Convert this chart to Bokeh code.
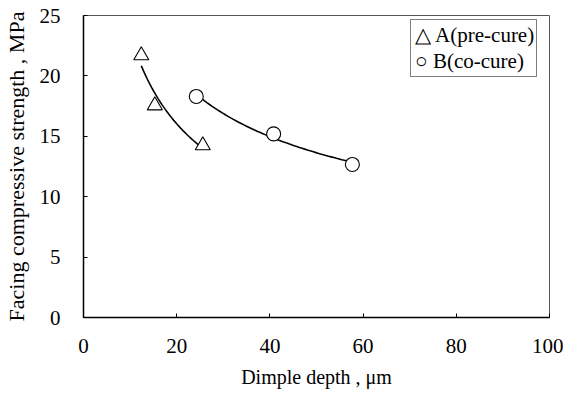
import numpy as np
from bokeh.plotting import figure
from bokeh.models import Legend, LegendItem, FixedTicker, Range1d
from bokeh.embed import file_html
from bokeh.resources import INLINE

# Data
a_depth = [12.4, 15.3, 25.6]
a_strength = [21.7, 17.55, 14.24]
b_depth = [24.2, 40.8, 57.7]
b_strength = [18.3, 15.2, 12.67]

x_ticks = [0, 20, 40, 60, 80, 100]
y_ticks = [0, 5, 10, 15, 20, 25]

FONT = "Liberation Serif"

def power_fit(x, y):
    b, ln_a = np.polyfit(np.log(x), np.log(y), 1)
    xs = np.linspace(min(x), max(x), 60)
    return xs, np.exp(ln_a) * xs ** b

p = figure(width=563, height=398, output_backend="svg", toolbar_location=None,
           x_range=Range1d(0, 100), y_range=Range1d(0, 25),
           min_border_left=83, min_border_right=14, min_border_top=15, min_border_bottom=81)
p.grid.visible = False
p.outline_line_color = "#555555"
p.outline_line_width = 1

for ax in (p.xaxis[0], p.yaxis[0]):
    ax.axis_line_color = "black"
    ax.axis_line_width = 1.5
    ax.major_tick_in = 4
    ax.major_tick_out = 0
    ax.minor_tick_in = 0
    ax.minor_tick_out = 0
    ax.major_tick_line_color = "black"
    ax.major_label_text_font = FONT
    ax.major_label_text_font_size = "21px"
    ax.major_label_text_color = "black"
    ax.axis_label_text_font = FONT
    ax.axis_label_text_font_style = "normal"
    ax.axis_label_text_color = "black"

p.xaxis.ticker = FixedTicker(ticks=x_ticks)
p.yaxis.ticker = FixedTicker(ticks=y_ticks)
p.xaxis.axis_label = "Dimple depth , μm"
p.yaxis.axis_label = "Facing compressive strength , MPa"
p.xaxis.axis_label_text_font_size = "20px"
p.yaxis.axis_label_text_font_size = "22px"
p.xaxis.major_label_standoff = 21
p.yaxis.major_label_standoff = 23
p.xaxis.axis_label_standoff = 10
p.yaxis.axis_label_standoff = 8

xa, ya = power_fit(a_depth, a_strength)
xb, yb = power_fit(b_depth, b_strength)
p.line(xa, ya, line_color="black", line_width=1.6)
p.line(xb, yb, line_color="black", line_width=1.6)

p.scatter(a_depth, a_strength, marker="triangle", size=15, fill_color="white",
          line_color="black", line_width=1.1)
p.scatter(b_depth, b_strength, marker="circle", size=14, fill_color="white",
          line_color="black", line_width=1.1)

# invisible renderers so that the legend shows only its text symbols
dummy_a = p.scatter([a_depth[0]], [a_strength[0]], marker="triangle", size=1,
                    fill_alpha=0, line_alpha=0)
dummy_b = p.scatter([b_depth[0]], [b_strength[0]], marker="circle", size=1,
                    fill_alpha=0, line_alpha=0)

legend = Legend(items=[LegendItem(label="△ A(pre-cure)", renderers=[dummy_a]),
                       LegendItem(label="○ B(co-cure)", renderers=[dummy_b])],
                location=(327, 240))
legend.label_text_font = FONT
legend.label_text_font_size = "21px"
legend.label_text_color = "black"
legend.border_line_color = "black"
legend.border_line_width = 1
legend.background_fill_alpha = 1
legend.padding = 2
legend.spacing = 0
legend.margin = 0
legend.label_height = 26
legend.glyph_height = 26
legend.glyph_width = 1
legend.label_standoff = 1
p.add_layout(legend)

open("out.html", "w").write(file_html(p, INLINE))
